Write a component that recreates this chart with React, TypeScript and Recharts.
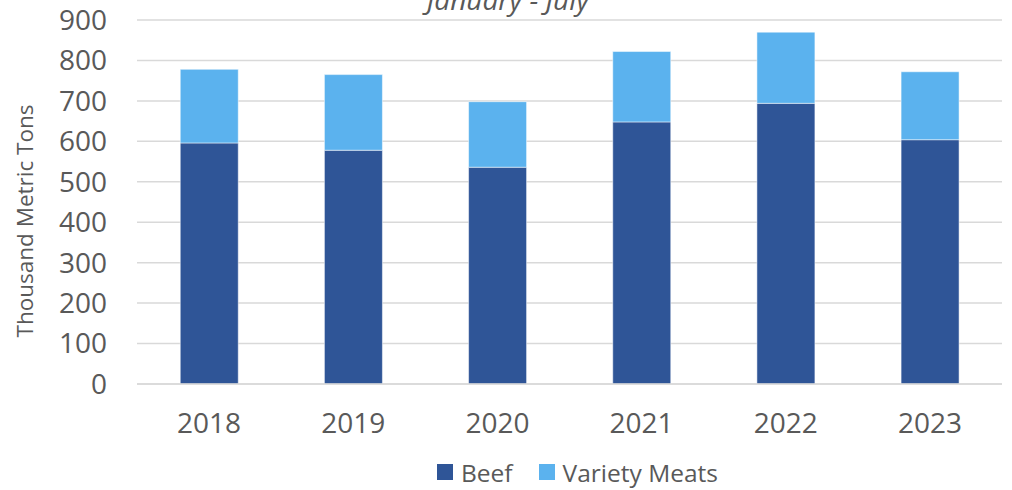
import React from 'react';
import { BarChart, Bar, XAxis, YAxis, CartesianGrid, Legend } from 'recharts';

const years = ['2018', '2019', '2020', '2021', '2022', '2023'];
const beef = [596, 578, 536, 648, 694, 604];
const varietyMeats = [182, 187, 162, 174, 176, 168];
const yTicks = [0, 100, 200, 300, 400, 500, 600, 700, 800, 900];
const seriesNames = ['Beef', 'Variety Meats'];
const seriesColors = ['#2F5597', '#5BB2EE'];
const subtitle = 'January - July';
const yLabel = 'Thousand Metric Tons';

const data = years.map((y, i) => ({ year: y, beef: beef[i], variety: varietyMeats[i] }));

const FONT = '"Open Sans", sans-serif';
const TXT = '#595959';

const LegendContent = () => (
  <div style={{ height: 36, display: 'flex', justifyContent: 'flex-start', alignItems: 'center', fontFamily: FONT, fontSize: 24.5, color: TXT, paddingLeft: 437 }}>
    {seriesNames.map((n, i) => (
      <div key={n} style={{ display: 'flex', alignItems: 'center', marginRight: i === 0 ? 26 : 0 }}>
        <div style={{ width: 16, height: 16, background: seriesColors[i], marginRight: 8 }} />
        <span>{n}</span>
      </div>
    ))}
  </div>
);

const YLabel = () => (
  <text x={24} y={221} transform="rotate(-90 24 221)" textAnchor="middle" dominantBaseline="central" fill={TXT} fontFamily={FONT} fontSize={22.5}>
    {yLabel}
  </text>
);

export default function App() {
  return (
    <div style={{ position: 'absolute', left: 0, top: 0, width: 1012, height: 490, background: '#fff' }}>
      <BarChart width={1012} height={490} data={data} margin={{ top: 20, right: 10, left: 0, bottom: 0 }} barCategoryGap="30%">
        <CartesianGrid horizontal vertical={false} stroke="#d9d9d9" strokeWidth={1.5} />
        <XAxis dataKey="year" height={70} tickSize={0} tickMargin={29} axisLine={{ stroke: '#d9d9d9', strokeWidth: 1.5 }} tickLine={false}
          tick={{ fill: TXT, fontFamily: FONT, fontSize: 28 }} />
        <YAxis width={137} domain={[0, 900]} ticks={yTicks} tickSize={0} tickMargin={30} axisLine={false} tickLine={false}
          tick={{ fill: TXT, fontFamily: FONT, fontSize: 28 }} label={<YLabel />} interval={0} />
        <Legend verticalAlign="bottom" content={<LegendContent />} />
        <Bar dataKey="beef" name={seriesNames[0]} stackId="a" fill={seriesColors[0]} stroke="#ffffff" strokeOpacity={0.5} strokeWidth={1} isAnimationActive={false} />
        <Bar dataKey="variety" name={seriesNames[1]} stackId="a" fill={seriesColors[1]} stroke="#ffffff" strokeOpacity={0.5} strokeWidth={1} isAnimationActive={false} />
      </BarChart>
      <svg width={1012} height={30} style={{ position: 'absolute', left: 0, top: 0, pointerEvents: 'none' }}>
        <text x={508} y={10} textAnchor="middle" fill={TXT} fontFamily={FONT} fontStyle="italic" fontSize={28}>{subtitle}</text>
      </svg>
    </div>
  );
}
